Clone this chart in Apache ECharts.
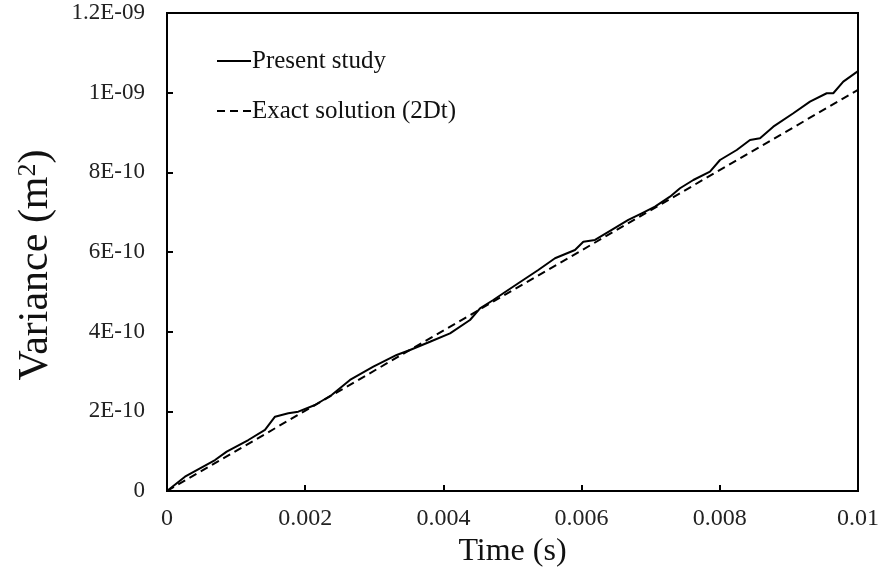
<!DOCTYPE html>
<html>
<head>
<meta charset="utf-8">
<script src="https://cdn.jsdelivr.net/npm/echarts@6/dist/echarts.min.js"></script>
<style>
html,body{margin:0;padding:0;background:#fff;}
#chart{width:884px;height:577px;}
</style>
</head>
<body>
<div id="chart"></div>
<script>
// Time (s)
const presentTime = [0, 0.000260, 0.000695, 0.000864, 0.001177, 0.001418, 0.001563, 0.001755, 0.0019, 0.002142,
  0.002383, 0.002648, 0.002986, 0.003324, 0.003517, 0.003806, 0.004096, 0.004385, 0.00453, 0.004722,
  0.004867, 0.005084, 0.005373, 0.005615, 0.005904, 0.006025, 0.006194, 0.006436, 0.006676, 0.00687,
  0.007062, 0.007279, 0.007424, 0.007617, 0.007858, 0.008003, 0.008245, 0.008437, 0.008582, 0.008774,
  0.009064, 0.009305, 0.009547, 0.009642, 0.009787, 0.01];
// Variance (m^2)
const presentVariance = [0, 0.359e-10, 0.778e-10, 0.987e-10, 1.280e-10, 1.532e-10, 1.865e-10, 1.951e-10, 1.991e-10, 2.159e-10,
  2.410e-10, 2.787e-10, 3.121e-10, 3.415e-10, 3.540e-10, 3.748e-10, 3.959e-10, 4.293e-10, 4.587e-10, 4.795e-10,
  4.964e-10, 5.215e-10, 5.549e-10, 5.842e-10, 6.051e-10, 6.259e-10, 6.302e-10, 6.553e-10, 6.804e-10, 6.972e-10,
  7.138e-10, 7.389e-10, 7.600e-10, 7.808e-10, 8.017e-10, 8.310e-10, 8.561e-10, 8.812e-10, 8.855e-10, 9.146e-10,
  9.483e-10, 9.774e-10, 9.985e-10, 9.985e-10, 10.276e-10, 10.54e-10];
const exactTime = [0, 0.01];
const exactVariance = [0, 1.007e-9];
const xTickLabels = ['0', '0.002', '0.004', '0.006', '0.008', '0.01'];
const yTickLabels = ['0', '2E-10', '4E-10', '6E-10', '8E-10', '1E-09', '1.2E-09'];
const seriesNames = ['Present study', 'Exact solution (2Dt)'];

const FONT = '"Liberation Serif", "Times New Roman", serif';
const chart = echarts.init(document.getElementById('chart'), null, {renderer: 'canvas'});
chart.setOption({
  backgroundColor: '#fff',
  animation: false,
  grid: {left: 167, right: 26, top: 13, bottom: 86, show: true, borderColor: '#000', borderWidth: 2, containLabel: false},
  legend: {
    orient: 'vertical', left: 211, top: 43, itemGap: 24, itemWidth: 34, itemHeight: 14,
    itemStyle: {opacity: 0},
    textStyle: {fontFamily: FONT, fontSize: 25, lineHeight: 26, color: '#111', padding: [0, 0, 0, -4]},
    data: seriesNames
  },
  xAxis: {
    type: 'value', min: 0, max: 0.01, interval: 0.002,
    name: 'Time (s)', nameLocation: 'middle', nameGap: 44,
    nameTextStyle: {fontFamily: FONT, fontSize: 32, color: '#111'},
    axisLine: {lineStyle: {color: '#000', width: 2}},
    axisTick: {inside: true, length: 6, lineStyle: {color: '#000', width: 2}},
    axisLabel: {fontFamily: FONT, fontSize: 24, color: '#222', margin: 16,
      formatter: (v, i) => xTickLabels[i]},
    splitLine: {show: false}
  },
  yAxis: {
    type: 'value', min: 0, max: 1.2e-9, interval: 2e-10,
    name: 'Variance (m{sup|2})', nameLocation: 'middle', nameGap: 110, nameRotate: 90,
    nameTextStyle: {fontFamily: FONT, fontSize: 42, color: '#111', padding: [0, 26, 0, 0],
      rich: {sup: {fontFamily: FONT, fontSize: 26, color: '#111', verticalAlign: 'top', padding: [0, 0, 16, 0]}}},
    axisLine: {lineStyle: {color: '#000', width: 2}},
    axisTick: {inside: true, length: 6, lineStyle: {color: '#000', width: 2}},
    axisLabel: {fontFamily: FONT, fontSize: 23, color: '#222', margin: 22,
      formatter: (v, i) => yTickLabels[i]},
    splitLine: {show: false}
  },
  series: [
    {
      name: seriesNames[0], type: 'line', symbol: 'none', z: 3,
      data: presentTime.map((t, i) => [t, presentVariance[i]]),
      lineStyle: {color: '#000', width: 2},
      itemStyle: {color: '#000'}
    },
    {
      name: seriesNames[1], type: 'line', symbol: 'none', z: 2,
      data: exactTime.map((t, i) => [t, exactVariance[i]]),
      lineStyle: {color: '#000', width: 2, type: [8, 5]},
      itemStyle: {color: '#000'}
    }
  ]
});
</script>
</body>
</html>
